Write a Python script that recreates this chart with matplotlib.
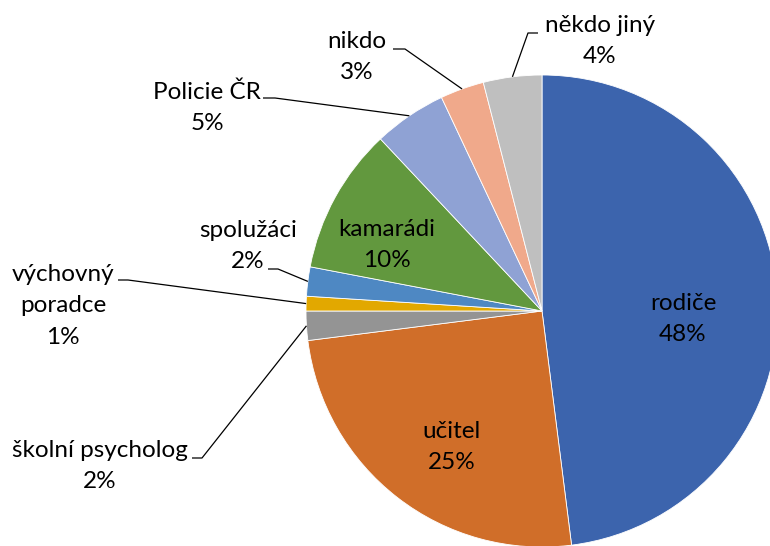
import matplotlib
matplotlib.use("Agg")
import matplotlib.pyplot as plt
import numpy as np

categories = ["rodiče", "učitel", "školní psycholog", "výchovný poradce", "spolužáci",
              "kamarádi", "Policie ČR", "nikdo", "někdo jiný"]
values = [48, 25, 2, 1, 2, 10, 5, 3, 4]
label_texts = ["rodiče\n48%", "učitel\n25%", "školní psycholog\n2%", "výchovný\nporadce\n1%",
               "spolužáci\n2%", "kamarádi\n10%", "Policie ČR\n5%", "nikdo\n3%", "někdo jiný\n4%"]
colors = ["#3C64AD", "#D06E29", "#949494", "#E2A800", "#4E88C3", "#62983E",
          "#8FA2D4", "#F0A98B", "#BFBFBF"]

# layout (pixel coordinates, y downward)
W, H = 770, 546
center = (542, 311)
radius = 236
inside = {0: (683, 319), 1: (452, 447), 5: (387, 245)}
# outside labels: text center, elbow (start of horizontal segment near text), elbow end
outside = {
    2: ((100, 466), (192, 458), (202, 458)),
    3: ((63, 306), (118, 280), (128, 280)),
    4: ((248, 246), (268, 269), (278, 269)),
    6: ((207, 108), (263, 98), (275, 98)),
    7: ((357, 57), (393, 49), (405, 49)),
    8: ((600, 41), (538, 33), (528, 33)),
}

plt.rcParams['font.family'] = ['Lato', 'DejaVu Sans']
fig = plt.figure(figsize=(W / 100, H / 100), dpi=100)
ax = fig.add_axes([0, 0, 1, 1])
wedges, _ = ax.pie(values, colors=colors, startangle=-90, counterclock=True,
                   center=center, radius=radius, frame=False,
                   wedgeprops=dict(edgecolor="white", linewidth=0.6))
ax.set_xlim(0, W)
ax.set_ylim(H, 0)
ax.set_aspect('equal')
ax.axis('off')

fs = 17.5
ls = 1.6
for i, (x, y) in inside.items():
    ax.text(x, y, label_texts[i], ha='center', va='center', fontsize=fs,
            color='black', linespacing=ls)

for i, (tpos, e1, e2) in outside.items():
    w = wedges[i]
    mid = np.deg2rad((w.theta1 + w.theta2) / 2)
    px = center[0] + radius * np.cos(mid)
    py = center[1] + radius * np.sin(mid)
    ax.plot([e1[0], e2[0], px], [e1[1], e2[1], py], color='black', lw=0.9,
            solid_capstyle='butt')
    ax.text(tpos[0], tpos[1], label_texts[i], ha='center', va='center', fontsize=fs,
            color='black', linespacing=ls)

fig.savefig("out.png", dpi=100)
